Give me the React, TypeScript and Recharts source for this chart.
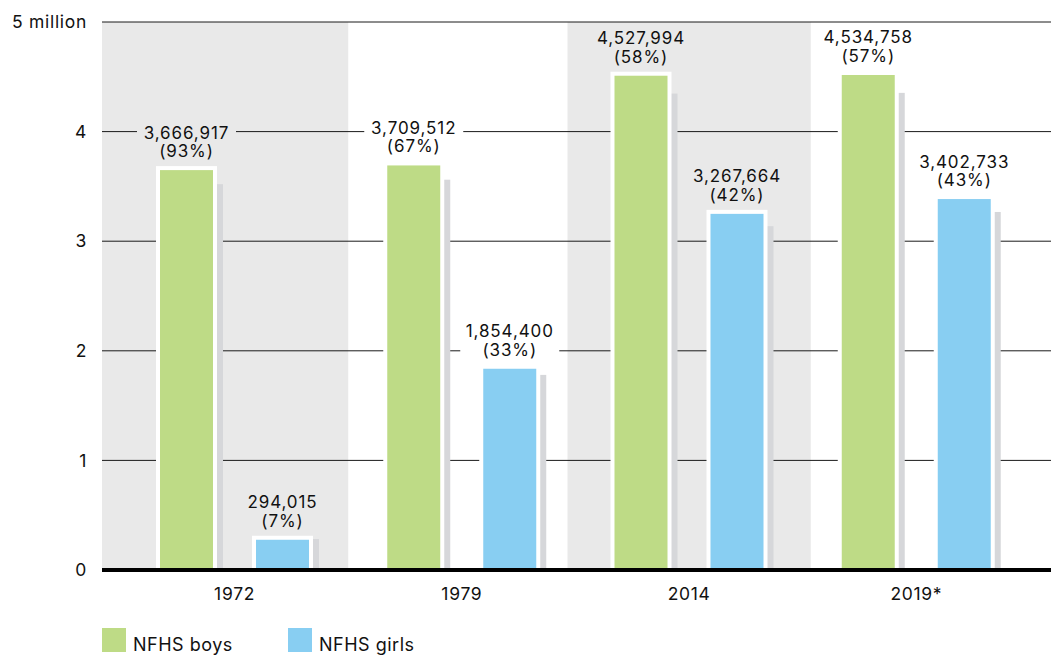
import React from "react";
import {
  BarChart,
  Bar,
  XAxis,
  YAxis,
  CartesianGrid,
  ReferenceArea,
  LabelList,
  Legend,
} from "recharts";

const years = ["1972", "1979", "2014", "2019*"];
const boys = [3666917, 3709512, 4527994, 4534758];
const girls = [294015, 1854400, 3267664, 3402733];
const boysPct = [93, 67, 58, 57];
const girlsPct = [7, 33, 42, 43];
const yTicks = [0, 1000000, 2000000, 3000000, 4000000, 5000000];
const shadedYears = ["1972", "2014"];

const data = years.map((year, i) => ({ year, boys: boys[i], girls: girls[i] }));

const GREEN = "#bedb86";
const BLUE = "#88cef2";
const BAND = "#e9e9e9";
const SHADOW = "#d6d7da";
const FONT = "Inter, 'Noto Sans', sans-serif";
const PAD_LEFT = 19;
const PAD_RIGHT = 21;
const TXT = { fontFamily: FONT, fontSize: 17.5, fill: "#111", letterSpacing: 0.7 };
const LBL = { fontFamily: FONT, fontSize: 17, fill: "#111", letterSpacing: 0.9 };

const ShadowBar = (props: any) => {
  const { x, y, width, height, fill } = props;
  if (height == null || height <= 0) return null;
  const bottom = y + height;
  const sh = height * 0.96;
  return (
    <g>
      <rect x={x + 6} y={bottom - sh} width={width} height={sh} fill={SHADOW} />
      <rect x={x} y={y - 2} width={width} height={height + 2} fill="#ffffff" />
      <rect x={x + 4} y={y + 2} width={width - 8} height={height - 2} fill={fill} />
    </g>
  );
};

const makeLabel = (pcts: number[]) => (props: any) => {
  const { x, y, width, value, index } = props;
  const cx = x + width / 2;
  const whiteTop = y - 2;
  const l2 = whiteTop - 9;
  const l1 = l2 - 18.5;
  const txt = Number(value).toLocaleString("en-US");
  const boxW = txt.length * 11;
  const bg = shadedYears.includes(years[index]) ? BAND : "#ffffff";
  return (
    <g>
      <rect x={cx - boxW / 2} y={l1 - 16} width={boxW} height={l2 - l1 + 22} fill={bg} />
      <text x={cx} y={l1} textAnchor="middle" {...LBL}>
        {txt}
      </text>
      <text x={cx} y={l2} textAnchor="middle" {...LBL}>
        {`(${pcts[index]}%)`}
      </text>
    </g>
  );
};

const LegendContent = () => (
  <div style={{ display: "flex", fontFamily: FONT, fontSize: 18, letterSpacing: 0.5, color: "#111" }}>
    {[
      { name: "NFHS boys", color: GREEN, w: 186 },
      { name: "NFHS girls", color: BLUE, w: 160 },
    ].map((it) => (
      <div key={it.name} style={{ display: "flex", alignItems: "flex-end", width: it.w }}>
        <div style={{ width: 24, height: 24, background: it.color, flex: "none" }} />
        <span style={{ marginLeft: 7, lineHeight: "18px", marginBottom: -2 }}>{it.name}</span>
      </div>
    ))}
  </div>
);

export default function App() {
  return (
    <div style={{ position: "absolute", left: 0, top: 0, width: 1051, height: 658, background: "#fff" }}>
      <BarChart
        width={1051}
        height={658}
        data={data}
        margin={{ top: 22, right: 0, left: 0, bottom: 58 }}
        barSize={61}
        barGap={35}
      >
        {shadedYears.map((yr, i) => (
          <ReferenceArea
            key={yr}
            x1={yr}
            x2={yr}
            y1={0}
            y2={5000000}
            zIndex={-200}
            ifOverflow="visible"
            shape={(p: any) => {
              const ext = i === 0 ? { l: PAD_LEFT, r: 0 } : { l: 8, r: 8 };
              return (
                <rect
                  x={p.x - ext.l}
                  y={p.y}
                  width={p.width + ext.l + ext.r}
                  height={p.height}
                  fill={BAND}
                />
              );
            }}
          />
        ))}
        <CartesianGrid vertical={false} stroke="#1a1a1a" strokeWidth={1} />
        <XAxis
          dataKey="year"
          padding={{ left: PAD_LEFT, right: PAD_RIGHT }}
          height={30}
          tickLine={false}
          axisLine={{ stroke: "#000", strokeWidth: 4 }}
          tickMargin={12}
          tick={TXT}
        />
        <YAxis
          width={102}
          domain={[0, 5000000]}
          ticks={yTicks}
          interval={0}
          axisLine={false}
          tickLine={false}
          tickMargin={9}
          tick={TXT}
          tickFormatter={(v: number) => (v === 5000000 ? "5 million" : String(v / 1000000))}
        />
        <Legend
          verticalAlign="middle"
          align="center"
          layout="horizontal"
          wrapperStyle={{ left: 102, top: 628, width: 400 }}
          content={LegendContent}
        />
        <Bar dataKey="boys" fill={GREEN} shape={ShadowBar} isAnimationActive={false}>
          <LabelList dataKey="boys" content={makeLabel(boysPct)} />
        </Bar>
        <Bar dataKey="girls" fill={BLUE} shape={ShadowBar} isAnimationActive={false}>
          <LabelList dataKey="girls" content={makeLabel(girlsPct)} />
        </Bar>
      </BarChart>
    </div>
  );
}
